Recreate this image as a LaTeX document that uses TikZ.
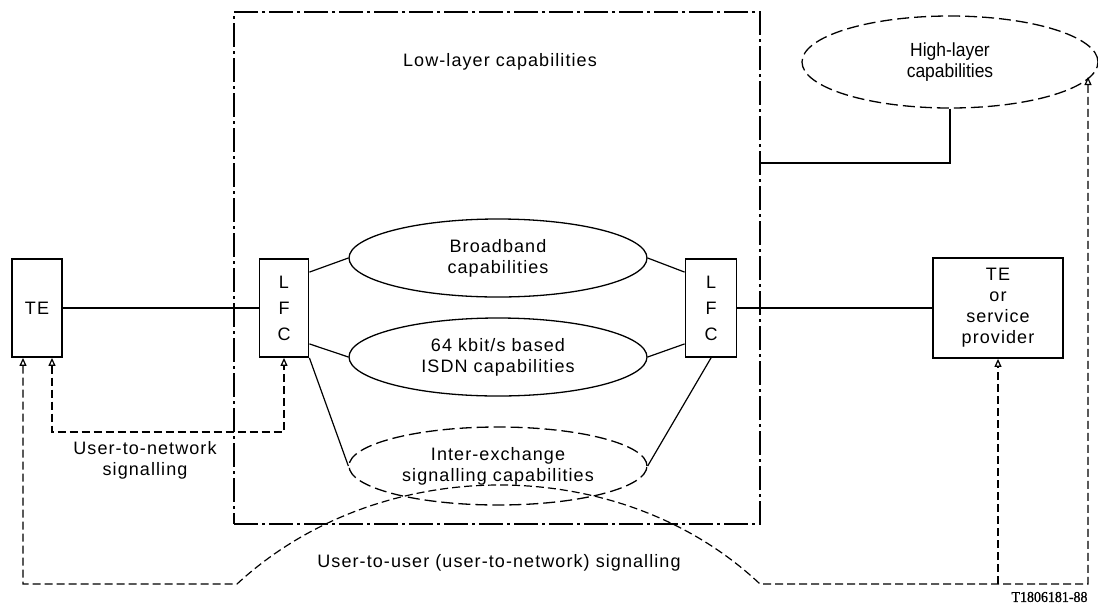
\documentclass[tikz,border=0pt]{standalone}
\usepackage{fontspec}
\setmainfont[LetterSpace=6]{Liberation Sans}
\newfontfamily\hlfont[FakeStretch=0.92]{Liberation Sans}
\newfontfamily\tagfont[FakeStretch=0.93,FakeBold=1]{Liberation Serif}
\usetikzlibrary{arrows.meta,shapes.geometric}

\begin{document}
\begin{tikzpicture}[x=1pt,y=-1pt,font=\fontsize{18}{21}\selectfont,
    box/.style={draw, line width=1.8pt, inner sep=0pt, align=center},
    capell/.style={draw, ellipse, line width=1.3pt, minimum width=298pt, minimum height=78pt, inner sep=0pt, align=center},
    capdash/.style={capell, dash pattern=on 12pt off 5pt},
    lowbox/.style={draw, line width=1.2pt, dash pattern=on 24pt off 4pt on 3pt off 4pt, minimum width=526pt, minimum height=512pt},
    sig/.style={line width=1.2pt, dash pattern=on 8pt off 4pt},
    link/.style={line width=1.2pt},
    arr/.style={-{Triangle[open,length=8pt,width=7pt]}},
    arrboth/.style={{Triangle[open,length=8pt,width=7pt]}-{Triangle[open,length=8pt,width=7pt]}}]
    \useasboundingbox (0,0) rectangle (1098,606);
    \node[lowbox] (llc) at (497,268) {};
    \node (llt) at (500,62) {Low-layer capabilities};
    \node[box, minimum width=50pt, minimum height=98pt] (te) at (37,308) {TE};
    \node[box, minimum width=49pt, minimum height=98pt] (lfcl) at (284,308) {L\\[5pt]F\\[5pt]C};
    \node[box, minimum width=51pt, minimum height=98pt] (lfcr) at (711,308) {L\\[5pt]F\\[5pt]C};
    \node[box, minimum width=130pt, minimum height=100pt] (tesp) at (998,308) {TE\\or\\service\\provider};
    \node[capell] (bb) at (498,258) {Broadband\\capabilities};
    \node[capell] (isdn) at (498,357) {64 kbit/s based\\ISDN capabilities};
    \node[capdash] (iex) at (498,466) {Inter-exchange\\signalling capabilities};
    \node[capdash, minimum width=296pt, minimum height=92pt, font=\hlfont\fontsize{19}{21}\selectfont] (hl) at (950,62) {High-layer\\capabilities};
    \draw[link] (te) -- (lfcl);
    \draw[link] (lfcr) -- (tesp);
    \draw[link] ([yshift=-14pt]lfcl.north east) -- (bb.west);
    \draw[link] ([yshift=14pt]lfcl.south east) -- (isdn.west);
    \draw[link] (lfcl.south east) -- (iex.west);
    \draw[link] ([yshift=-14pt]lfcr.north west) -- (bb.east);
    \draw[link] ([yshift=14pt]lfcr.south west) -- (isdn.east);
    \draw[link] (lfcr.south) -- (iex.east);
    \draw[link] (hl.south) |- ([yshift=105pt]llc.east);
    \coordinate (ul) at (237,584);
    \coordinate (ur) at (760,584);
    \coordinate (hlin) at (1088,77);
    \draw[sig, arrboth] ([xshift=15pt]te.south) -- ++(0,74) -| (lfcl.south);
    \draw[sig, arrboth] ([xshift=-14pt]te.south) |- (ul) .. controls (380,452) and (620,452) .. (ur) -| (hlin);
    \draw[sig, arr] (tesp.south |- ur) -- (tesp.south);
    \node[align=center] (unt) at (145,460) {User-to-network\\signalling};
    \node (uut) at (499,563) {User-to-user (user-to-network) signalling};
    \node[anchor=east, font=\tagfont\fontsize{15}{18}\selectfont] (tag) at (1091,597) {T1806181-88};
\end{tikzpicture}
\end{document}
